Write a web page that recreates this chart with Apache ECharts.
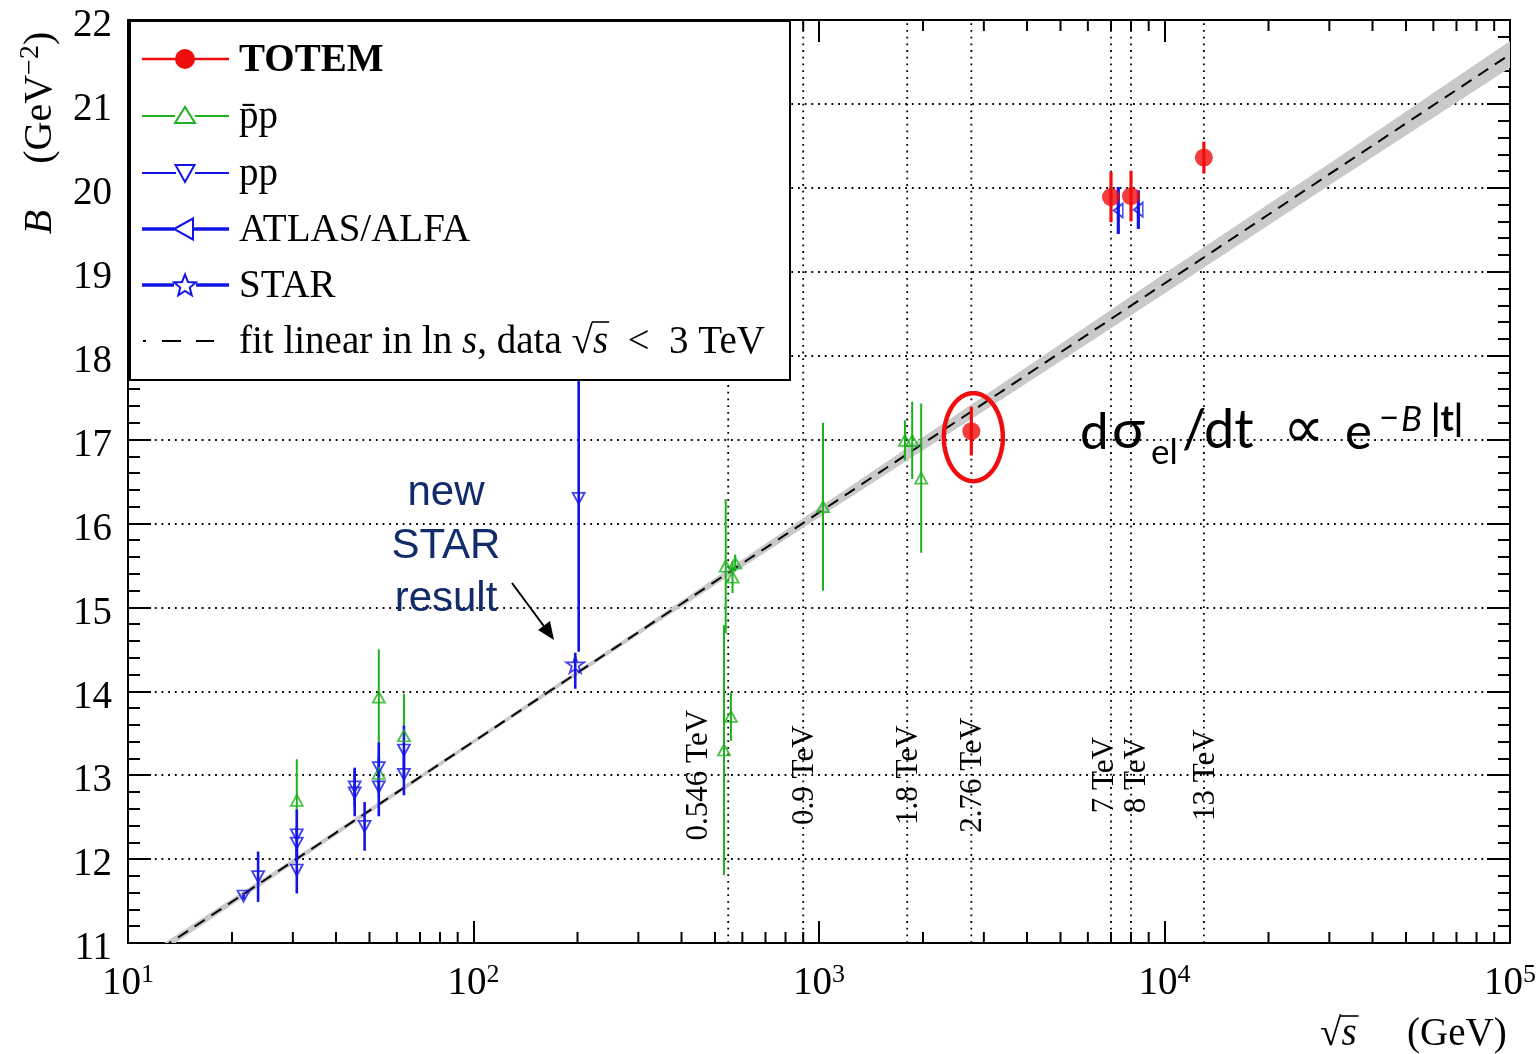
<!DOCTYPE html>
<html>
<head>
<meta charset="utf-8">
<title>Elastic slope B versus collision energy</title>
<script src="https://cdn.jsdelivr.net/npm/echarts@6/dist/echarts.min.js"></script>
<style>
html, body { margin: 0; padding: 0; background: #ffffff; }
#chart { width: 1539px; height: 1054px; }
</style>
</head>
<body>
<div id="chart"></div>
<script>
// ---- measurements: sqrt(s) in GeV, slope B in GeV^-2, errors in GeV^-2 ----
const totemSqrtS = [2760, 7000, 8000, 13000];
const totemB     = [17.10, 19.89, 19.90, 20.36];
const totemErr   = [0.29, 0.30, 0.30, 0.19];

const ppbarSqrtS = [30.8, 53.2, 53.2, 62.9, 531, 537, 572, 562, 556, 1027, 1773, 1861, 1976];
const ppbarB     = [12.70, 13.93, 13.02, 13.47, 13.30, 15.49, 15.53, 15.36, 13.70, 16.20, 16.99, 16.99, 16.54];
const ppbarErr   = [0.49, 0.57, 0.30, 0.50, 1.49, 0.80, 0.10, 0.19, 0.29, 1.00, 0.24, 0.46, 0.89];

const ppSqrtS = [21.6, 23.8, 30.8, 30.8, 30.8, 45.3, 45.3, 48.4, 53.2, 53.2, 62.9, 62.9, 201.6];
const ppB     = [11.56, 11.79, 12.29, 12.19, 11.87, 12.86, 12.79, 12.39, 13.09, 12.86, 13.30, 13.01, 16.30];
const ppErr   = [0.04, 0.30, 0.30, 0.20, 0.28, 0.23, 0.28, 0.29, 0.30, 0.35, 0.29, 0.25, 1.83];

const atlasSqrtS = [7350, 8400];
const atlasB     = [19.73, 19.74];
const atlasErr   = [0.28, 0.23];

const starSqrtS   = [197];
const starB       = [14.32];
const starErrDown = [0.29];
const starErrUp   = [0.14];

// fit linear in ln s (end points of the drawn line) and its uncertainty band
const fitSqrtS  = [10, 100000];
const fitB      = [10.67, 21.59];
const bandSqrtS = [10, 30, 100, 300, 1000, 3000, 10000, 30000, 100000];
const bandLow   = [10.62, 11.94, 13.375, 14.67, 16.07, 17.34, 18.74, 20.03, 21.43];
const bandHigh  = [10.72, 12.00, 13.425, 14.73, 16.19, 17.52, 18.98, 20.29, 21.75];

// collider energies marked by vertical guides
const energyGeV    = [546, 900, 1800, 2760, 7000, 8000, 13000];
const energyLabels = ['0.546 TeV', '0.9 TeV', '1.8 TeV', '2.76 TeV', '7 TeV', '8 TeV', '13 TeV'];

// legend entries
const legendNames = ['TOTEM', 'p\u0304p', 'pp', 'ATLAS/ALFA', 'STAR'];

// axis ranges
const xMin = 10, xMax = 100000;
const yMin = 11, yMax = 22;

// ---- styling ----
const SERIF = "'Liberation Serif', 'DejaVu Serif', serif";
const SANS = "'Liberation Sans', Arial, sans-serif";
const MATH_SANS = "Lato, 'Open Sans', 'Noto Sans', sans-serif";
const GREEN = '#1fb01f';
const BLUE = '#1414e6';
const RED = '#f00d0d';
const NAVY = '#122c6a';
const HOLLOW = 'rgba(0,0,0,0)';
const energyLabelShift = [-29, 2, 1.5, 1.5, -6, 6, 1.5];
const ENERGY_LABEL_B = 13.0;

const chart = echarts.init(document.getElementById('chart'), null, { renderer: 'canvas' });

const measureCtx = document.createElement('canvas').getContext('2d');
function textWidth(t, font) { measureCtx.font = font; return measureCtx.measureText(t).width; }

function points(xs, ys) { return xs.map((x, i) => [x, ys[i]]); }
function errRows(xs, ys, down, up) { return xs.map((x, i) => [x, ys[i], down[i], (up || down)[i]]); }

function errorBars(name, data, color, width) {
  return {
    type: 'custom', name, data, encode: { x: 0, y: 1 }, z: 4, silent: true, clip: true,
    renderItem(params, api) {
      const x = api.value(0), y = api.value(1);
      const a = api.coord([x, y - api.value(2)]);
      const b = api.coord([x, y + api.value(3)]);
      return { type: 'line', shape: { x1: a[0], y1: a[1], x2: b[0], y2: b[1] },
               style: { stroke: color, lineWidth: width } };
    }
  };
}

function markers(name, data, opts) {
  return Object.assign({
    type: 'scatter', name, data, z: 5, silent: true,
    emphasis: { disabled: true }
  }, opts);
}

// minor ticks of the logarithmic axis (2..9 in each decade)
const minorX = [];
for (let e = 1; e < 5; e++) for (let m = 2; m <= 9; m++) minorX.push(m * Math.pow(10, e));

const STAR_PATH = 'path://M50,0 L61.2,34.5 L97.6,34.5 L68.2,55.9 L79.4,90.5 L50,69.1 L20.6,90.5 L31.8,55.9 L2.4,34.5 L38.8,34.5 Z';

const yAxisBase = {
  type: 'value', min: yMin, max: yMax, interval: 1,
  axisLine: { show: true, onZero: false, lineStyle: { color: '#000', width: 2 } },
  axisTick: { show: true, inside: true, length: 23, lineStyle: { color: '#000', width: 2 } },
  minorTick: { show: true, splitNumber: 5, length: 12, lineStyle: { color: '#000', width: 2 } }
};
const xAxisBase = {
  type: 'log', logBase: 10, min: xMin, max: xMax,
  axisLine: { show: true, onZero: false, lineStyle: { color: '#000', width: 2 } },
  axisTick: { show: true, inside: true, length: 22, lineStyle: { color: '#000', width: 2 } },
  splitLine: { show: false }
};

// ---- legend (framed box in the upper left of the plot) ----
const LX0 = 142, LX1 = 229, LMX = 185, LTX = 239;
const rowY = [59, 116, 173, 229, 285, 341];
const LEG_FONT = 39;
const LEG_TEXT_DY = 2;
function serifText(t, x, y, extra) {
  return { type: 'text', x, y, z: 101, silent: true,
    style: Object.assign({ text: t, fontFamily: SERIF, fontSize: LEG_FONT, fill: '#000',
      align: 'left', verticalAlign: 'middle' }, extra || {}) };
}
function segment(x1, y1, x2, y2, color, w, z) {
  return { type: 'line', z: z || 101, silent: true, shape: { x1, y1, x2, y2 },
           style: { stroke: color, lineWidth: w } };
}
function starPts(cx, cy, R, r) {
  const pts = [];
  for (let k = 0; k < 10; k++) {
    const a = -Math.PI / 2 + k * Math.PI / 5;
    const rad = k % 2 ? r : R;
    pts.push([cx + rad * Math.cos(a), cy + rad * Math.sin(a)]);
  }
  return pts;
}

const legendEls = [
  { type: 'rect', z: 100, silent: true, shape: { x: 130, y: 21, width: 660, height: 359 },
    style: { fill: '#fff', stroke: '#000', lineWidth: 2 } },
  // TOTEM
  segment(LX0, rowY[0], LX1, rowY[0], RED, 2.5),
  { type: 'circle', z: 102, silent: true, shape: { cx: LMX, cy: rowY[0], r: 10 }, style: { fill: RED } },
  serifText(legendNames[0], LTX, rowY[0] + LEG_TEXT_DY, { fontWeight: 'bold' }),
  // pbar p
  segment(LX0, rowY[1], 175, rowY[1], GREEN, 2), segment(195, rowY[1], LX1, rowY[1], GREEN, 2),
  { type: 'polygon', z: 102, silent: true, shape: { points: [[LMX, rowY[1] - 9], [LMX - 10, rowY[1] + 7], [LMX + 10, rowY[1] + 7]] },
    style: { fill: '#fff', stroke: GREEN, lineWidth: 2 } },
  serifText(legendNames[1], LTX, rowY[1] + LEG_TEXT_DY),
  // pp
  segment(LX0, rowY[2], 176, rowY[2], BLUE, 2), segment(195, rowY[2], LX1, rowY[2], BLUE, 2),
  { type: 'polygon', z: 102, silent: true, shape: { points: [[LMX - 9.5, rowY[2] - 8], [LMX + 9.5, rowY[2] - 8], [LMX, rowY[2] + 9]] },
    style: { fill: '#fff', stroke: BLUE, lineWidth: 2 } },
  serifText(legendNames[2], LTX, rowY[2] + LEG_TEXT_DY),
  // ATLAS/ALFA
  segment(LX0, rowY[3], 174, rowY[3], BLUE, 3.5), segment(193, rowY[3], LX1, rowY[3], BLUE, 3.5),
  { type: 'polygon', z: 102, silent: true, shape: { points: [[LMX - 11, rowY[3]], [LMX + 8, rowY[3] - 10.5], [LMX + 8, rowY[3] + 10.5]] },
    style: { fill: '#fff', stroke: BLUE, lineWidth: 2 } },
  serifText(legendNames[3], LTX, rowY[3] + LEG_TEXT_DY),
  // STAR
  segment(LX0, rowY[4], 174, rowY[4], BLUE, 3.5), segment(196, rowY[4], LX1, rowY[4], BLUE, 3.5),
  { type: 'polygon', z: 102, silent: true, shape: { points: starPts(LMX, rowY[4] + 1, 11.5, 5) },
    style: { fill: '#fff', stroke: BLUE, lineWidth: 2 } },
  serifText(legendNames[4], LTX, rowY[4] + LEG_TEXT_DY),
  // fit line
  segment(143, rowY[5], 146, rowY[5], '#000', 2), segment(162, rowY[5], 181, rowY[5], '#000', 2),
  segment(196, rowY[5], 214, rowY[5], '#000', 2)
];

// "fit linear in ln s, data sqrt(s) < 3 TeV" assembled from upright / italic runs
(function () {
  const up = LEG_FONT + 'px ' + SERIF;
  const it = 'italic ' + LEG_FONT + 'px ' + SERIF;
  const runs = [['fit linear in ln ', up, false], ['s', it, true], [', data ', up, false],
                ['\u221A', up, false], ['s', it, true], ['  <  3 TeV', up, false]];
  let x = LTX;
  let rootX = 0;
  runs.forEach(([t, f, ital], i) => {
    legendEls.push(serifText(t, x, rowY[5] + LEG_TEXT_DY, ital ? { fontStyle: 'italic' } : {}));
    if (i === 3) rootX = x;
    x += textWidth(t, f);
    if (i === 4) legendEls.push(segment(rootX + textWidth('\u221A', up) - 1, rowY[5] - 19, x + 1, rowY[5] - 19, '#000', 1.6));
  });
})();

// ---- annotations ----
const annotationEls = [
  { type: 'text', x: 446, y: 546, z: 60, silent: true,
    style: { text: 'new\nSTAR\nresult', fontFamily: SANS, fontSize: 42, lineHeight: 53,
             fill: NAVY, align: 'center', verticalAlign: 'middle' } },
  segment(512, 583, 546, 629, '#000', 2, 60),
  { type: 'polygon', z: 60, silent: true,
    shape: { points: [[554, 640], [538, 630], [550, 621]] }, style: { fill: '#000' } }
];

// d sigma_el / dt  proportional to  exp(-B|t|)
function mathText(t, x, baseline, size, extra) {
  return { type: 'text', x, y: baseline - 0.37 * size, z: 60, silent: true,
    style: Object.assign({ text: t, fontFamily: MATH_SANS, fontSize: size, fill: '#000',
      align: 'left', verticalAlign: 'middle' }, extra || {}) };
}
annotationEls.push(
  mathText('d', 1080, 451, 51),
  mathText('\u03C3', 1112, 451, 55),
  mathText('el', 1151, 466, 35),
  mathText('/dt', 1182, 451, 54),
  mathText('\u221D', 1283, 453, 58, { fontFamily: "'DejaVu Sans', sans-serif" }),
  mathText('e', 1345, 451, 51),
  mathText('\u2212', 1379, 432, 35),
  mathText('B', 1401, 433, 35, { fontStyle: 'italic' }),
  mathText('|t|', 1431, 433, 36, { fontWeight: 'bold' })
);

// axis titles
annotationEls.push(
  { type: 'text', x: 40, y: 133, rotation: Math.PI / 2, z: 60, silent: true,
    style: { text: '{i|B}{g| }{r|(GeV}{s|\u22122}{r|)}', align: 'center', verticalAlign: 'middle',
      rich: {
        i: { fontFamily: SERIF, fontSize: 40, fontStyle: 'italic', fill: '#000', lineHeight: 46 },
        g: { fontFamily: SERIF, fontSize: 40, width: 46, lineHeight: 46 },
        r: { fontFamily: SERIF, fontSize: 40, fill: '#000', lineHeight: 46 },
        s: { fontFamily: SERIF, fontSize: 28, fill: '#000', verticalAlign: 'top', lineHeight: 28 }
      } } }
);
(function () {
  const up = '39px ' + SERIF;
  const yMid = 1035;
  const rootW = textWidth('\u221A', up);
  annotationEls.push(
    { type: 'text', x: 1320, y: yMid, z: 60, silent: true,
      style: { text: '\u221A', fontFamily: SERIF, fontSize: 39, fill: '#000', align: 'left', verticalAlign: 'middle' } },
    { type: 'text', x: 1320 + rootW, y: yMid, z: 60, silent: true,
      style: { text: 's', fontFamily: SERIF, fontSize: 39, fontStyle: 'italic', fill: '#000', align: 'left', verticalAlign: 'middle' } },
    segment(1320 + rootW - 1, yMid - 19, 1320 + rootW + textWidth('s', 'italic 39px ' + SERIF) + 2, yMid - 19, '#000', 1.6, 60),
    { type: 'text', x: 1407, y: yMid, z: 60, silent: true,
      style: { text: '(GeV)', fontFamily: SERIF, fontSize: 39, fill: '#000', align: 'left', verticalAlign: 'middle' } }
  );
})();

const option = {
  animation: false,
  backgroundColor: '#ffffff',
  grid: { left: 128, right: 27, top: 20, bottom: 111, containLabel: false },
  xAxis: [
    Object.assign({}, xAxisBase, {
      position: 'bottom',
      axisLabel: {
        margin: 19,
        formatter: v => '{b|10}{s|' + Math.round(Math.log10(v)) + '}',
        rich: {
          b: { fontFamily: SERIF, fontSize: 39, color: '#000', lineHeight: 44 },
          s: { fontFamily: SERIF, fontSize: 26, color: '#000', verticalAlign: 'top', lineHeight: 26 }
        }
      }
    }),
    Object.assign({}, xAxisBase, { position: 'top', axisLabel: { show: false } })
  ],
  yAxis: [
    Object.assign({}, yAxisBase, {
      position: 'left',
      axisLabel: {
        margin: 16,
        formatter: v => '{v|' + v + '}',
        rich: { v: { fontFamily: SERIF, fontSize: 39, color: '#000', padding: [12, 0, 0, 0] } }
      },
      splitLine: { show: true, lineStyle: { color: '#000', width: 1.8, type: [1.8, 4.9] } }
    }),
    Object.assign({}, yAxisBase, { position: 'right', axisLabel: { show: false }, splitLine: { show: false } })
  ],
  graphic: { elements: legendEls.concat(annotationEls) },
  series: [
    // vertical guides at collider energies and minor ticks on the log axis
    {
      type: 'custom', name: 'guides', data: [[100, 15]], encode: { x: 0, y: 1 }, z: 1, silent: true,
      renderItem(params, api) {
        const children = [];
        energyGeV.forEach(e => {
          const b = api.coord([e, yMin]), t = api.coord([e, yMax]);
          children.push({ type: 'line', shape: { x1: b[0], y1: b[1], x2: t[0], y2: t[1] },
            style: { stroke: '#000', lineWidth: 1.8, lineDash: [1.8, 4.9] } });
        });
        minorX.forEach(v => {
          const b = api.coord([v, yMin]), t = api.coord([v, yMax]);
          children.push({ type: 'line', shape: { x1: b[0], y1: b[1], x2: b[0], y2: b[1] - 11 }, style: { stroke: '#000', lineWidth: 2 } });
          children.push({ type: 'line', shape: { x1: t[0], y1: t[1], x2: t[0], y2: t[1] + 11 }, style: { stroke: '#000', lineWidth: 2 } });
        });
        return { type: 'group', children };
      }
    },
    // fit uncertainty band
    {
      type: 'custom', name: 'band', data: [[100, 15]], encode: { x: 0, y: 1 }, z: 2, silent: true, clip: true,
      renderItem(params, api) {
        const pts = [];
        bandSqrtS.forEach((x, i) => pts.push(api.coord([x, bandHigh[i]])));
        for (let i = bandSqrtS.length - 1; i >= 0; i--) pts.push(api.coord([bandSqrtS[i], bandLow[i]]));
        return { type: 'polygon', shape: { points: pts }, style: { fill: '#c9c9c9' } };
      }
    },
    {
      type: 'line', name: 'fit', data: points(fitSqrtS, fitB), z: 3, silent: true, clip: true,
      showSymbol: false, symbol: 'none',
      lineStyle: { color: '#000', width: 2, type: [12, 8] }
    },
    errorBars('pbar p errors', errRows(ppbarSqrtS, ppbarB, ppbarErr), GREEN, 2),
    errorBars('pp errors', errRows(ppSqrtS, ppB, ppErr), BLUE, 2.6),
    errorBars('STAR errors', errRows(starSqrtS, starB, starErrDown, starErrUp), BLUE, 2.6),
    errorBars('ATLAS errors', errRows(atlasSqrtS, atlasB, atlasErr), BLUE, 3.2),
    errorBars('TOTEM errors', errRows(totemSqrtS, totemB, totemErr), RED, 3.2),
    markers(legendNames[1], points(ppbarSqrtS, ppbarB), {
      symbol: 'triangle', symbolSize: [12, 11],
      itemStyle: { color: HOLLOW, borderColor: GREEN, borderWidth: 1.8 } }),
    markers(legendNames[2], points(ppSqrtS, ppB), {
      symbol: 'triangle', symbolRotate: 180, symbolSize: [12, 11],
      itemStyle: { color: HOLLOW, borderColor: BLUE, borderWidth: 1.8 } }),
    markers(legendNames[4], points(starSqrtS, starB), {
      symbol: STAR_PATH, symbolSize: [18, 17],
      itemStyle: { color: HOLLOW, borderColor: BLUE, borderWidth: 1.8 } }),
    markers(legendNames[3], points(atlasSqrtS, atlasB), {
      symbol: 'triangle', symbolRotate: 90, symbolSize: [14, 9],
      itemStyle: { color: HOLLOW, borderColor: BLUE, borderWidth: 1.8 } }),
    markers(legendNames[0], points(totemSqrtS, totemB), {
      symbol: 'circle', symbolSize: 18, z: 6, itemStyle: { color: RED } }),
    // energy labels along the guides
    {
      type: 'custom', name: 'energy labels', z: 7, silent: true,
      data: energyGeV.map((e, i) => [e, ENERGY_LABEL_B, i]), encode: { x: 0, y: 1 },
      renderItem(params, api) {
        const i = api.value(2);
        const p = api.coord([api.value(0), api.value(1)]);
        return { type: 'text', x: p[0] + energyLabelShift[i], y: p[1], rotation: Math.PI / 2,
          style: { text: energyLabels[i], fontFamily: SERIF, fontSize: 31, fill: '#000',
                   align: 'center', verticalAlign: 'middle' } };
      }
    },
    // red ring around the 2.76 TeV point
    {
      type: 'custom', name: 'highlight', z: 7, silent: true,
      data: [[totemSqrtS[0], totemB[0]]], encode: { x: 0, y: 1 },
      renderItem(params, api) {
        const c = api.coord([api.value(0), api.value(1)]);
        const cx = c[0] + 2, cy = c[1] + 6, rx = 29.5, ry = 44;
        const pts = [];
        for (let k = 0; k < 96; k++) {
          const a = k / 96 * Math.PI * 2;
          pts.push([cx + rx * Math.cos(a), cy + ry * Math.sin(a)]);
        }
        return { type: 'polygon', shape: { points: pts },
                 style: { fill: HOLLOW, stroke: RED, lineWidth: 4.5 } };
      }
    }
  ]
};

chart.setOption(option);
</script>
</body>
</html>
